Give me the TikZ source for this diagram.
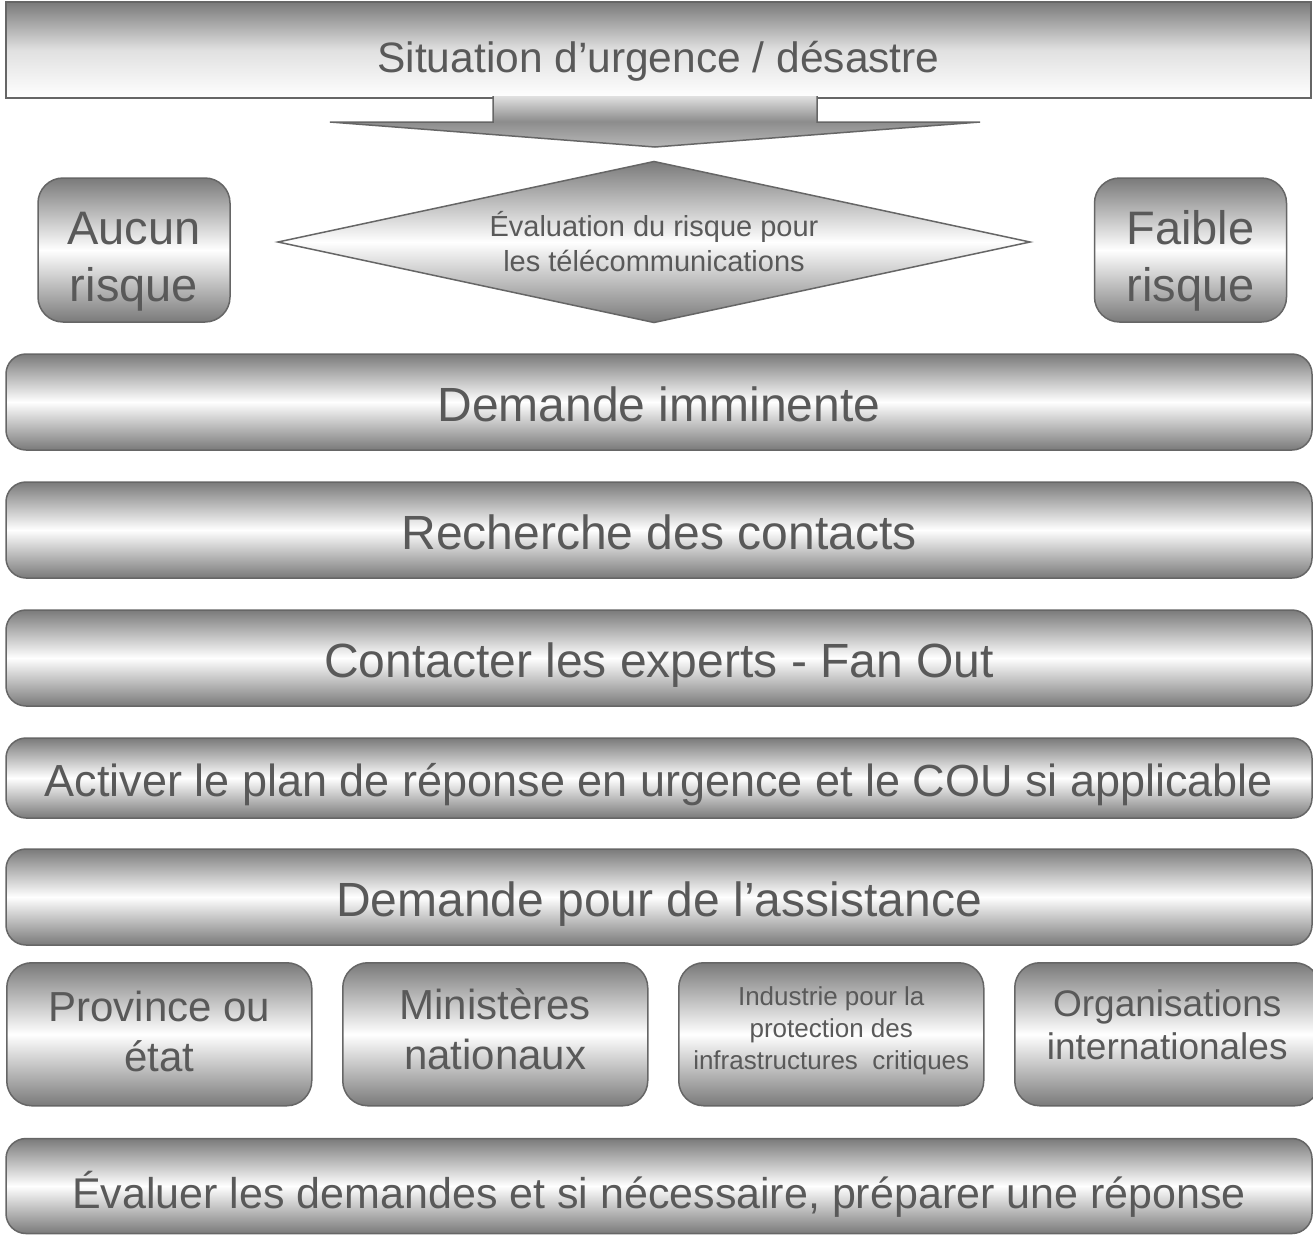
\documentclass[tikz,border=0pt]{standalone}
\usepackage{fontspec}
\setmainfont{Liberation Sans}
\usepackage{tikz}
\usetikzlibrary{
  shapes.geometric,
  matrix,
  positioning,
  calc
}
\definecolor{bargray}{RGB}{122,122,122}
\definecolor{edgegray}{RGB}{102,102,102}
\definecolor{textgray}{RGB}{89,89,89}
% struts to move multi-line text inside its box
\newcommand{\lift}[1]{\rule{0pt}{#1}}
\newcommand{\sink}[1]{\rule[-#1]{0pt}{#1}}

\begin{document}
\begin{tikzpicture}[
      x=1pt,y=-1pt,
      node distance=32pt,
      every node/.style={text=textgray},
      banner/.style={
         rectangle,
         draw=edgegray,
         line width=1.5pt,
         outer sep=0pt,
         top color=bargray,bottom color=white,middle color=black!12,
         minimum width=1305pt,
         minimum height=96pt,
         inner sep=0pt,
         text height=53pt,text depth=9pt,
         font=\fontsize{42.5}{51}\selectfont
      },
      pointer/.style={
         draw=edgegray,
         line width=1.5pt,
         top color=black!12,bottom color=black!28,middle color=black!45
      },
      judge/.style={
         diamond,
         aspect=4.67,
         minimum width=752pt,
         minimum height=161pt,
         inner sep=0pt,
         outer sep=0pt,
         draw=edgegray,
         line width=1.5pt,
         top color=bargray,bottom color=bargray,middle color=white,
         align=center,
         font=\fontsize{29}{35}\selectfont
      },
      riskbox/.style={
         rectangle,
         rounded corners=25pt,
         minimum width=192pt,
         minimum height=144pt,
         inner sep=0pt,
         outer sep=0pt,
         draw=edgegray,
         line width=1.5pt,
         top color=bargray,bottom color=bargray,middle color=white,
         align=center,
         font=\fontsize{47}{57}\selectfont
      },
      bar/.style={
         rectangle,
         rounded corners=20pt,
         minimum width=1306pt,
         minimum height=96pt,
         inner sep=0pt,
         outer sep=0pt,
         draw=edgegray,
         line width=1.5pt,
         top color=bargray,bottom color=bargray,middle color=white,
         text height=48pt,text depth=10pt,
         font=\fontsize{48}{57.6}\selectfont
      },
      tile/.style={
         rectangle,
         rounded corners=25pt,
         minimum width=305pt,
         minimum height=143pt,
         inner sep=0pt,
         outer sep=0pt,
         draw=edgegray,
         line width=1.5pt,
         top color=bargray,bottom color=bargray,middle color=white,
         align=center,
         font=\fontsize{42}{50}\selectfont
      }
    ]
    \useasboundingbox (0,0) rectangle (1313,1235);

    % situation and risk evaluation
    \node (sit) [banner] at (658.5,50) {Situation d’urgence / désastre};
    \coordinate (tip) at (655,147);
    \draw[pointer] ($(tip)+(-162,-51)$) -- ++(0,26) -- ++(-163,0) -- (tip)
       -- ++(325,-25) -- ++(-163,0) -- ++(0,-26);
    \node (risk) [judge] at (654,242) {Évaluation du risque pour\\les télécommunications};
    \node (none) [riskbox] at (134,250) {\lift{55pt}Aucun\\risque};
    \node (low) [riskbox] at (1190.5,250) {\lift{55pt}Faible\\risque};

    % steps
    \node (imm) [bar] at (659,402) {Demande imminente};
    \node (search) [bar, below=of imm] {Recherche des contacts};
    \node (experts) [bar, below=of search] {Contacter les experts - Fan Out};
    \node (plan) [bar, below=of experts, minimum height=80pt,
       text height=45pt, text depth=9pt,
       font=\fontsize{45}{54}\selectfont] {Activer le plan de réponse en urgence et le COU si applicable};
    \node (assist) [bar, below=31pt of plan] {Demande pour de l’assistance};

    \matrix (groups) [below=17pt of assist.south west, anchor=north west,
       column sep=29.5pt, inner sep=0pt, outer sep=0pt] {
       \node (prov) [tile] {Province ou\\état\sink{5pt}}; &
       \node (mins) [tile] {Ministères\\nationaux\sink{10pt}}; &
       \node (ind) [tile, font=\fontsize{26}{32}\selectfont] {Industrie pour la\\protection des\\infrastructures\ \ critiques\sink{13pt}}; &
       \node (intl) [tile, font=\fontsize{37}{43}\selectfont] {Organisations\\internationales\sink{20pt}}; \\
    };

    \node (assess) [bar, below=32pt of groups.south west, anchor=north west,
       minimum height=95pt, text height=53pt, text depth=9pt,
       font=\fontsize{43}{52}\selectfont] {Évaluer les demandes et si nécessaire, préparer une réponse};
\end{tikzpicture}
\end{document}
